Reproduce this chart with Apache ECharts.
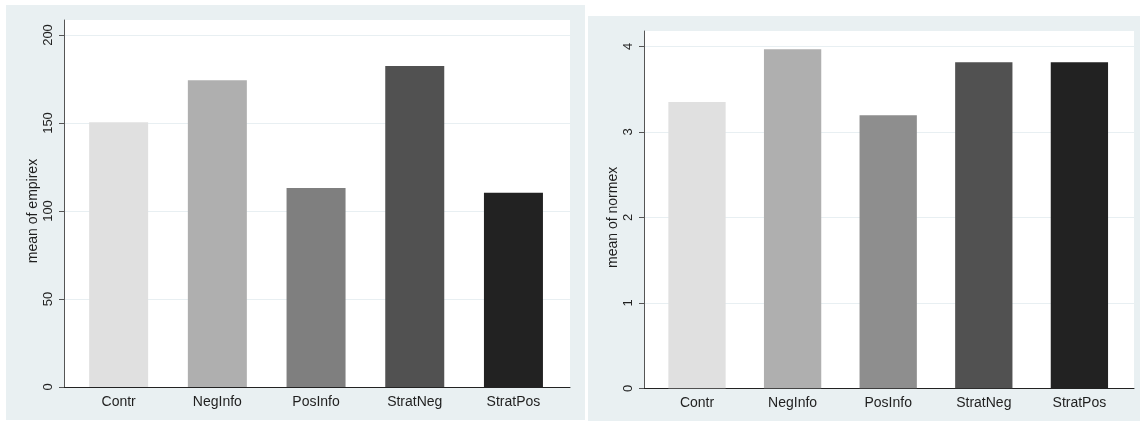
<!DOCTYPE html>
<html><head><meta charset="utf-8">
<script src="https://cdn.jsdelivr.net/npm/echarts@6/dist/echarts.min.js"></script>
<style>html,body{margin:0;padding:0;background:#fff}#c{width:1140px;height:421px}</style>
</head><body><div id="c"></div>
<script>
const categories = ['Contr', 'NegInfo', 'PosInfo', 'StratNeg', 'StratPos'];
const empirexMeans = [150.4, 174.3, 113.1, 182.4, 110.4];
const normexMeans = [3.35, 3.967, 3.195, 3.815, 3.815];
const leftColors = ['#e0e0e0', '#afafaf', '#7f7f7f', '#515151', '#222222'];
const rightColors = ['#e0e0e0', '#afafaf', '#8e8e8e', '#515151', '#222222'];
const leftTicks = [0, 50, 100, 150, 200];
const rightTicks = [0, 1, 2, 3, 4];

const FONT = 'Liberation Sans, Arial, sans-serif';
const TXT = '#1f1f1f';
const GRIDC = '#e8eff2';
const PANEL = '#e9f0f2';

const chart = echarts.init(document.getElementById('c'), null, {renderer: 'canvas'});

function panel(p) {
  const base = p.idx * 3;
  const grids = [
    {left: p.fl, top: p.ft, width: p.fw, height: p.fh, show: true, backgroundColor: '#ffffff', borderWidth: 0, containLabel: false},
    {left: p.fl, top: p.yt, width: p.fw, height: p.fb - p.yt, show: false, containLabel: false},
    {left: p.bl, top: p.yt, width: p.bw, height: p.fb - p.yt, show: false, containLabel: false}
  ];
  const xAxes = [
    {gridIndex: base, type: 'value', min: 0, max: 1, axisLine: {show: true, onZero: false, lineStyle: {color: '#222', width: 1}}, axisTick: {show: false}, axisLabel: {show: false}, splitLine: {show: false}},
    {gridIndex: base + 1, type: 'value', min: 0, max: 1, show: false},
    {gridIndex: base + 2, type: 'category', data: categories, axisLine: {show: false}, axisTick: {show: false},
     axisLabel: {color: TXT, fontFamily: FONT, fontSize: 14, margin: 8}}
  ];
  const yAxes = [
    {gridIndex: base, type: 'value', min: 0, max: 1, axisLine: {show: true, lineStyle: {color: '#555', width: 1}}, axisTick: {show: false}, axisLabel: {show: false}, splitLine: {show: false}},
    {gridIndex: base + 1, type: 'value', min: 0, max: p.max, interval: p.interval,
     axisLine: {show: false}, axisTick: {show: true, length: 5, lineStyle: {color: '#555'}},
     axisLabel: {color: TXT, fontFamily: FONT, fontSize: 13, rotate: 90, margin: 9},
     splitLine: {show: true, lineStyle: {color: GRIDC, width: 1}},
     name: p.name, nameLocation: 'middle', nameGap: 24, nameRotate: 90,
     nameTextStyle: {color: TXT, fontFamily: FONT, fontSize: 14}},
    {gridIndex: base + 2, type: 'value', min: 0, max: p.max, show: false}
  ];
  const series = [{
    type: 'bar', xAxisIndex: base + 2, yAxisIndex: base + 2, barWidth: p.barWidth,
    data: p.data.map((v, i) => ({value: v, itemStyle: {color: p.colors[i]}})),
    animation: false, silent: true
  }];
  return {grids, xAxes, yAxes, series};
}

const L = panel({idx: 0, fl: 64, ft: 20, fw: 506, fh: 367, fb: 387, yt: 35, bl: 69.3, bw: 493.5,
  max: leftTicks[leftTicks.length - 1], interval: leftTicks[1] - leftTicks[0], name: 'mean of empirex',
  data: empirexMeans, colors: leftColors, barWidth: 59});
const R = panel({idx: 1, fl: 644, ft: 31, fw: 490, fh: 357.3, fb: 388.3, yt: 46.5, bl: 649.2, bw: 478,
  max: rightTicks[rightTicks.length - 1], interval: rightTicks[1] - rightTicks[0], name: 'mean of normex',
  data: normexMeans, colors: rightColors, barWidth: 57.3});

chart.setOption({
  animation: false,
  backgroundColor: '#ffffff',
  graphic: [
    {type: 'rect', z: -10, shape: {x: 6, y: 5, width: 579, height: 415}, style: {fill: PANEL}, silent: true},
    {type: 'rect', z: -10, shape: {x: 588, y: 16, width: 552, height: 405}, style: {fill: PANEL}, silent: true}
  ],
  grid: L.grids.concat(R.grids),
  xAxis: L.xAxes.concat(R.xAxes),
  yAxis: L.yAxes.concat(R.yAxes),
  series: L.series.concat(R.series)
});
</script></body></html>
